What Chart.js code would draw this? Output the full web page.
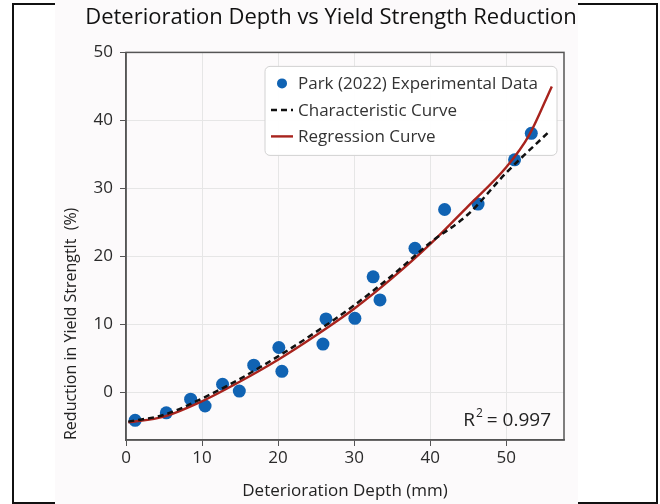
<!DOCTYPE html>
<html>
<head>
<meta charset="utf-8">
<script src="https://cdn.jsdelivr.net/npm/chart.js@4.4.1/dist/chart.umd.min.js"></script>
<style>
    html, body { margin: 0; padding: 0; background: #fff; }
    #wrap { width: 660px; height: 504px; }
</style>
</head>
<body>
<div id="wrap"><canvas id="chart" width="660" height="504"></canvas></div>
<script>
/* ======================================================
   DETERIORATION DEPTH vs YIELD STRENGTH REDUCTION
====================================================== */

// Park (2022) experimental points
const depthMm = [1.2, 5.3, 8.5, 10.4, 12.7, 14.9, 16.8, 20.1, 20.5, 25.9, 26.3, 30.1, 32.5, 33.4, 38.0, 41.9, 46.3, 51.1, 53.3];
const reductionPct = [-4.1, -3.0, -1.0, -2.0, 1.2, 0.2, 4.0, 6.6, 3.1, 7.1, 10.8, 10.9, 17.0, 13.6, 21.2, 26.9, 27.7, 34.2, 38.1];

// characteristic curve (dashed)
const characteristicDepth = [0.3, 5, 10, 15, 20, 25, 30, 35, 40, 45, 50, 55.5];
const characteristicPct = [-4.3, -3.3, -0.9, 2.0, 5.3, 8.9, 12.8, 17.2, 22.0, 26.2, 32.3, 38.2];

// regression curve (solid red)
const regressionDepth = [0.3, 5, 10, 15, 20, 25, 30, 35, 40, 45, 50, 53, 56];
const regressionPct = [-4.4, -3.55, -1.3, 1.6, 4.8, 8.4, 12.3, 16.8, 21.8, 27.4, 33.1, 37.8, 45.0];

const xTicks = [0, 10, 20, 30, 40, 50];
const yTicks = [0, 10, 20, 30, 40, 50];
const rSquared = '0.997';

const FONT = 'Open Sans';

function toPoints(xs, ys) {
    return xs.map((x, i) => ({ x, y: ys[i] }));
}

// white page, thin black frame, off-white panel over the middle
const pagePanel = {
    id: 'pagePanel',
    beforeDraw(chart) {
        const ctx = chart.ctx;
        ctx.save();
        ctx.fillStyle = '#ffffff';
        ctx.fillRect(0, 0, chart.width, chart.height);
        ctx.strokeStyle = '#111';
        ctx.lineWidth = 2;
        ctx.strokeRect(13, 4, 644, 499);
        ctx.fillStyle = '#fcfafb';
        ctx.fillRect(55, 0, 523, chart.height);
        ctx.restore();
    },
    afterLayout(chart) {
        // centre the title on the page, not on the padded box
        if (chart.titleBlock) {
            chart.titleBlock.left = 2;
            chart.titleBlock.right = chart.width;
        }
    }
};

// legend box inside the plot, under the curves
const insideLegend = {
    id: 'insideLegend',
    beforeDatasetsDraw(chart) {
        const { ctx, chartArea: a } = chart;
        const w = 292, h = 89;
        const left = a.right - 7 - w;
        const top = a.top + 14;
        ctx.save();
        ctx.beginPath();
        ctx.roundRect(left, top, w, h, 5);
        ctx.fillStyle = 'rgba(255,255,255,0.95)';
        ctx.fill();
        ctx.strokeStyle = '#d2d2d2';
        ctx.lineWidth = 1;
        ctx.stroke();

        ctx.font = `17px "${FONT}"`;
        ctx.textBaseline = 'middle';
        ctx.textAlign = 'left';
        chart.data.datasets.forEach((ds, i) => {
            const y = top + 17 + i * 26.5;
            const mx = left + 17;
            ctx.save();
            if (ds.showLine === false) {
                ctx.beginPath();
                ctx.arc(mx, y, 5, 0, Math.PI * 2);
                ctx.fillStyle = ds.backgroundColor;
                ctx.fill();
            } else {
                ctx.beginPath();
                ctx.moveTo(mx - 11, y);
                ctx.lineTo(mx + 11, y);
                ctx.strokeStyle = ds.borderColor;
                ctx.lineWidth = ds.borderWidth;
                ctx.setLineDash(ds.borderDash || []);
                ctx.stroke();
            }
            ctx.restore();
            ctx.fillStyle = '#333';
            ctx.fillText(ds.label, left + 33, y + 1);
        });
        ctx.restore();
    },
    afterDatasetsDraw(chart) {
        const { ctx, chartArea: a } = chart;
        ctx.save();
        // plot box top and right edges
        ctx.strokeStyle = '#555';
        ctx.lineWidth = 1.5;
        ctx.strokeRect(a.left, a.top, a.right - a.left, a.bottom - a.top);

        // R² note, bottom right
        const base = a.bottom - 14;
        ctx.fillStyle = '#222';
        ctx.textBaseline = 'alphabetic';
        ctx.textAlign = 'left';
        ctx.font = `19px "${FONT}"`;
        const rest = ' = ' + rSquared;
        const restW = ctx.measureText(rest).width;
        const rW = ctx.measureText('R').width;
        ctx.font = `12px "${FONT}"`;
        const supW = ctx.measureText('2').width;
        const x0 = a.right - 13 - restW - supW - rW;
        ctx.font = `19px "${FONT}"`;
        ctx.fillText('R', x0, base);
        ctx.font = `12px "${FONT}"`;
        ctx.fillText('2', x0 + rW + 1, base - 9);
        ctx.font = `19px "${FONT}"`;
        ctx.fillText(rest, x0 + rW + supW, base);
        ctx.restore();
    }
};

const ctx = document.getElementById('chart').getContext('2d');

new Chart(ctx, {
    type: 'scatter',
    data: {
        datasets: [
            {
                label: 'Park (2022) Experimental Data',
                data: toPoints(depthMm, reductionPct),
                showLine: false,
                pointRadius: 6.5,
                pointBackgroundColor: '#1063b3',
                backgroundColor: '#1063b3',
                pointBorderWidth: 0,
                order: 3
            },
            {
                label: 'Characteristic Curve',
                data: toPoints(characteristicDepth, characteristicPct),
                showLine: true,
                borderColor: '#111',
                borderWidth: 2.5,
                borderDash: [6, 4],
                pointRadius: 0,
                cubicInterpolationMode: 'monotone',
                order: 1
            },
            {
                label: 'Regression Curve',
                data: toPoints(regressionDepth, regressionPct),
                showLine: true,
                borderColor: '#a8231d',
                borderWidth: 2.4,
                pointRadius: 0,
                cubicInterpolationMode: 'monotone',
                order: 2
            }
        ]
    },
    options: {
        responsive: false,
        animation: false,
        layout: { padding: { left: 0, right: 96, top: 0, bottom: 0 } },
        plugins: {
            legend: { display: false },
            tooltip: { enabled: false },
            title: {
                display: true,
                text: 'Deterioration Depth vs Yield Strength Reduction',
                color: '#111',
                font: { family: FONT, size: 22, weight: 'normal' },
                padding: { top: 5, bottom: 21 }
            }
        },
        scales: {
            x: {
                type: 'linear',
                min: 0,
                max: 57.6,
                afterBuildTicks: s => { s.ticks = xTicks.map(v => ({ value: v })); },
                afterFit: s => { s.height = 64; },
                grid: { color: '#e6e6e6', lineWidth: 1, tickLength: 6, tickColor: '#555' },
                border: { color: '#555', width: 1.5 },
                ticks: { color: '#2a2a2a', font: { family: FONT, size: 17 }, padding: 2, maxRotation: 0 },
                title: {
                    display: true,
                    text: 'Deterioration Depth (mm)',
                    color: '#222',
                    font: { family: FONT, size: 17 },
                    padding: { top: 4, bottom: 3 }
                }
            },
            y: {
                type: 'linear',
                min: -7,
                max: 50,
                afterBuildTicks: s => { s.ticks = yTicks.map(v => ({ value: v })); },
                afterFit: s => { s.width = 126; },
                grid: { color: '#e6e6e6', lineWidth: 1, tickLength: 6, tickColor: '#555' },
                border: { color: '#555', width: 1.5 },
                ticks: { color: '#2a2a2a', font: { family: FONT, size: 17 }, padding: 7 },
                title: {
                    display: true,
                    text: 'Reduction in Yield Strengtlt  (%)',
                    align: 'start',
                    color: '#222',
                    font: { family: FONT, size: 16 },
                    padding: { top: 62, bottom: 4 }
                }
            }
        }
    },
    plugins: [pagePanel, insideLegend]
});
</script>
</body>
</html>
